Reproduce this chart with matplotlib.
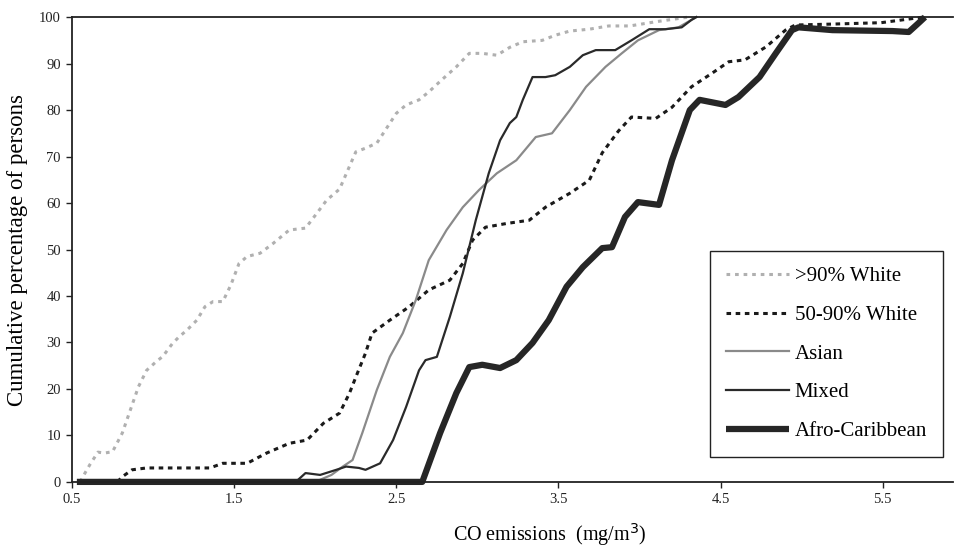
import matplotlib
matplotlib.use("Agg")
import matplotlib.pyplot as plt

plt.rcParams['font.family'] = ['Liberation Serif', 'DejaVu Serif']

# ── DATA ──────────────────────────────────────────────────────────
w90_x = [0.55, 0.58, 0.61, 0.66, 0.70, 0.75, 0.81, 0.86, 0.91, 0.96, 1.02, 1.06,
         1.12, 1.16, 1.21, 1.27, 1.32, 1.37, 1.43, 1.48, 1.53, 1.58, 1.66, 1.74,
         1.84, 1.94, 2.01, 2.07, 2.15, 2.21, 2.25, 2.31, 2.38, 2.44, 2.50, 2.56,
         2.64, 2.70, 2.78, 2.87, 2.95, 3.03, 3.12, 3.20, 3.28, 3.40, 3.48, 3.57,
         3.69, 3.81, 3.94, 4.10, 4.30]
w90_y = [0.0, 1.9, 3.7, 6.4, 6.2, 6.5, 10.5, 15.5, 20.5, 24.0, 25.9, 27.0,
         29.8, 31.2, 32.7, 34.8, 37.7, 38.8, 38.8, 42.4, 47.0, 48.5, 49.2, 51.3,
         54.2, 54.6, 57.8, 60.6, 63.0, 67.8, 71.0, 71.8, 72.9, 76.1, 79.3, 81.1,
         82.2, 83.9, 86.5, 89.3, 92.2, 92.2, 91.8, 93.5, 94.7, 95.0, 96.1, 97.0,
         97.4, 98.1, 98.1, 99.0, 100.0]

w50_x = [0.78, 0.81, 0.87, 0.96, 1.35, 1.43, 1.58, 1.70, 1.84, 1.95, 2.05, 2.15,
         2.21, 2.26, 2.31, 2.35, 2.46, 2.58, 2.70, 2.83, 2.91, 2.97, 3.05, 3.18,
         3.32, 3.42, 3.57, 3.69, 3.77, 3.87, 3.95, 4.10, 4.20, 4.32, 4.45, 4.55,
         4.65, 4.78, 4.90, 4.96, 5.19, 5.49, 5.75]
w50_y = [0.0, 1.1, 2.6, 3.0, 3.0, 4.0, 4.0, 6.2, 8.3, 9.0, 12.6, 14.8,
         19.0, 23.4, 27.7, 32.0, 34.8, 37.7, 41.3, 43.4, 47.0, 52.0, 54.8, 55.6,
         56.3, 59.1, 62.1, 64.9, 70.8, 75.5, 78.5, 78.2, 80.6, 85.0, 88.0, 90.4,
         90.8, 93.6, 97.2, 98.3, 98.5, 98.8, 100.0]

asian_x = [2.00, 2.10, 2.17, 2.23, 2.29, 2.38, 2.46, 2.54, 2.62, 2.70, 2.81, 2.91,
           3.01, 3.12, 3.24, 3.36, 3.46, 3.57, 3.67, 3.79, 3.89, 3.99, 4.12, 4.24,
           4.32, 4.35]
asian_y = [0.0, 1.5, 3.3, 4.7, 10.5, 19.8, 26.9, 32.0, 39.1, 47.7, 54.2, 59.1,
           62.8, 66.4, 69.2, 74.2, 75.0, 80.0, 85.0, 89.3, 92.2, 95.0, 97.2, 97.8,
           99.4, 100.0]

mixed_x = [1.88, 1.94, 2.03, 2.13, 2.19, 2.27, 2.31, 2.40, 2.48, 2.56, 2.64, 2.68,
           2.75, 2.83, 2.91, 2.99, 3.07, 3.14, 3.20, 3.24, 3.28, 3.34, 3.42, 3.48,
           3.57, 3.65, 3.73, 3.85, 3.95, 4.06, 4.16, 4.26, 4.32, 4.35]
mixed_y = [0.0, 1.9, 1.5, 2.6, 3.3, 3.0, 2.6, 4.0, 9.0, 16.1, 24.0, 26.2,
           26.9, 35.5, 44.9, 56.3, 66.4, 73.5, 77.2, 78.5, 82.2, 87.1, 87.1, 87.5,
           89.3, 91.8, 92.9, 92.9, 95.0, 97.4, 97.4, 97.8, 99.4, 100.0]

afro_x = [0.53, 2.66, 2.77, 2.87, 2.95, 3.03, 3.14, 3.24, 3.34, 3.44, 3.55, 3.65,
          3.77, 3.83, 3.91, 3.99, 4.12, 4.20, 4.31, 4.37, 4.53, 4.61, 4.74, 4.84,
          4.94, 4.98, 5.19, 5.56, 5.66, 5.72, 5.76]
afro_y = [0.0, 0.0, 10.5, 19.1, 24.7, 25.2, 24.5, 26.2, 29.9, 34.8, 42.0, 46.2,
          50.3, 50.5, 57.0, 60.2, 59.6, 69.2, 80.0, 82.2, 81.1, 82.8, 87.1, 92.2,
          97.2, 97.8, 97.2, 97.0, 96.8, 98.7, 100.0]

x_ticks = [0.5, 1.5, 2.5, 3.5, 4.5, 5.5]
y_ticks = [0, 10, 20, 30, 40, 50, 60, 70, 80, 90, 100]

# ── FIGURE ────────────────────────────────────────────────────────
fig = plt.figure(figsize=(9.55, 5.52), dpi=100)
ax = fig.add_axes([0.0754, 0.127, 0.922, 0.842])

ax.plot(w90_x, w90_y, color='#b0b0b0', linewidth=2.2, linestyle=(0, (1.2, 1.6)),
        label='>90% White', clip_on=False)
ax.plot(w50_x, w50_y, color='#1a1a1a', linewidth=2.2, linestyle=(0, (1.5, 1.5)),
        label='50-90% White', clip_on=False)
ax.plot(asian_x, asian_y, color='#8a8a8a', linewidth=1.6, label='Asian', clip_on=False)
ax.plot(mixed_x, mixed_y, color='#2a2a2a', linewidth=1.6, label='Mixed', clip_on=False)
ax.plot(afro_x, afro_y, color='#262626', linewidth=4.5, label='Afro-Caribbean',
        clip_on=False, solid_capstyle='butt')

ax.set_xlim(0.5, 5.93)
ax.set_ylim(0, 100)
ax.set_xticks(x_ticks)
ax.set_xticklabels([str(t) for t in x_ticks])
ax.set_yticks(y_ticks)

ax.spines['right'].set_visible(False)
for s in ['left', 'bottom', 'top']:
    ax.spines[s].set_linewidth(1.3)
    ax.spines[s].set_color('#222222')

ax.tick_params(direction='out', length=4, width=1, labelsize=10.5, colors='#222222', pad=4)

ax.set_xlabel('CO emissions  (mg/m$^3$)', fontsize=14.5, va='center')
ax.xaxis.set_label_coords(0.543, -0.114)
ax.set_ylabel('Cumulative percentage of persons', fontsize=16.5, labelpad=8)

leg = ax.legend(loc='lower right', bbox_to_anchor=(0.989, 0.054), borderaxespad=0,
                fontsize=15, handlelength=3.0, labelspacing=0.92, handletextpad=0.3,
                borderpad=0.75, fancybox=False, framealpha=1)
leg.get_frame().set_edgecolor('#222222')
leg.get_frame().set_linewidth(1.0)

fig.savefig('out.png', dpi=100)
